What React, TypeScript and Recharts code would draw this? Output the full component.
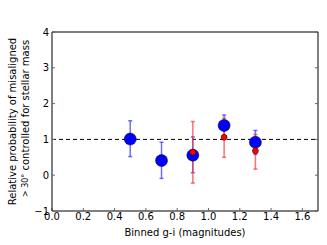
import React from "react";
import {
  ScatterChart, Scatter, XAxis, YAxis, ErrorBar, ReferenceLine,
} from "recharts";

// binned g-i colour
const binX = [0.5, 0.7, 0.9, 1.1, 1.3];
const blueVals = [1.01, 0.41, 0.56, 1.39, 0.92];
const blueLow = [0.52, -0.09, 0.07, 1.1, 0.58];
const blueHigh = [1.52, 0.92, 1.07, 1.68, 1.25];

const redX = [0.9, 1.1, 1.3];
const redVals = [0.64, 1.06, 0.68];
const redLow = [-0.22, 0.5, 0.17];
const redHigh = [1.5, 1.59, 1.14];

const xTicks = [0, 0.2, 0.4, 0.6, 0.8, 1.0, 1.2, 1.4, 1.6];
const yTicks = [-1, 0, 1, 2, 3, 4];

const FONT = "DejaVu Sans";

const blueData = binX.map((x, i) => ({
  x, y: blueVals[i], err: [blueVals[i] - blueLow[i], blueHigh[i] - blueVals[i]],
}));
const redData = redX.map((x, i) => ({
  x, y: redVals[i], err: [redVals[i] - redLow[i], redHigh[i] - redVals[i]],
}));

const Nothing = () => <g />;
const BlueDot = (p: any) => <circle cx={p.cx} cy={p.cy} r={6} fill="#0000ff" stroke="#000" strokeWidth={0.5} />;
const RedDot = (p: any) => <circle cx={p.cx} cy={p.cy} r={3} fill="#ff0000" stroke="#000" strokeWidth={0.5} />;

const YLabel = (props: any) => {
  const vb = props.viewBox || { x: 0, y: 32, width: 52, height: 179 };
  const cy = vb.y + vb.height / 2;
  return (
    <g fontFamily={FONT} fill="#000">
      <text x={12} y={cy} transform={`rotate(-90 12 ${cy})`} textAnchor="middle" dominantBaseline="central" fontSize={10}>
        Relative probability of misaligned
      </text>
      <text x={25} y={cy - 3} transform={`rotate(-90 25 ${cy - 3})`} textAnchor="middle" dominantBaseline="central" fontSize={10}>
        <tspan fontSize={8}>{"> 30°"}</tspan> controlled for stellar mass
      </text>
    </g>
  );
};

const tickStyle = { fontSize: 10, fontFamily: FONT, fill: "#000" };
const fmtY = (v: number) => (v < 0 ? `\u2212${Math.abs(v)}` : `${v}`);

export default function App() {
  return (
    <div style={{ position: "absolute", left: 0, top: 0, background: "#fff" }}>
      <ScatterChart width={327} height={245} margin={{ top: 31, right: 8, bottom: 0, left: 0 }}>
        <XAxis
          dataKey="x" type="number" domain={[0, 1.7]} ticks={xTicks} height={34}
          stroke="#000" tickLine={{ stroke: "#666" }} tickSize={-3} tickMargin={5}
          tick={tickStyle} tickFormatter={(v: number) => v.toFixed(1)} allowDataOverflow
          label={{ value: "Binned g-i (magnitudes)", position: "insideBottom", offset: 9, style: { fontSize: 10, fontFamily: FONT, fill: "#000" } }}
        />
        <XAxis
          xAxisId="top" orientation="top" type="number" domain={[0, 1.7]} ticks={xTicks} height={1}
          stroke="#000" tickLine={{ stroke: "#666" }} tickSize={-3} tick={<Nothing />} allowDataOverflow
        />
        <YAxis
          dataKey="y" type="number" domain={[-1, 4]} ticks={yTicks} width={52}
          stroke="#000" tickLine={{ stroke: "#666" }} tickSize={-3} tickMargin={6}
          tick={tickStyle} tickFormatter={fmtY} allowDataOverflow
          label={{ content: <YLabel /> }}
        />
        <YAxis
          yAxisId="right" orientation="right" type="number" domain={[-1, 4]} ticks={yTicks} width={1}
          stroke="#000" tickLine={{ stroke: "#666" }} tickSize={-3} tick={<Nothing />} allowDataOverflow
        />
        <ReferenceLine y={1} stroke="#000" strokeDasharray="4 3" strokeWidth={1} />
        <Scatter data={blueData} shape={<Nothing />} isAnimationActive={false}>
          <ErrorBar dataKey="err" direction="y" width={2} stroke="#3333ff" strokeOpacity={0.7} strokeWidth={1.5} />
        </Scatter>
        <Scatter data={redData} shape={<Nothing />} isAnimationActive={false}>
          <ErrorBar dataKey="err" direction="y" width={2} stroke="#ff3333" strokeOpacity={0.7} strokeWidth={1.5} />
        </Scatter>
        <Scatter data={blueData} shape={<BlueDot />} isAnimationActive={false} />
        <Scatter data={redData} shape={<RedDot />} isAnimationActive={false} />
      </ScatterChart>
    </div>
  );
}
